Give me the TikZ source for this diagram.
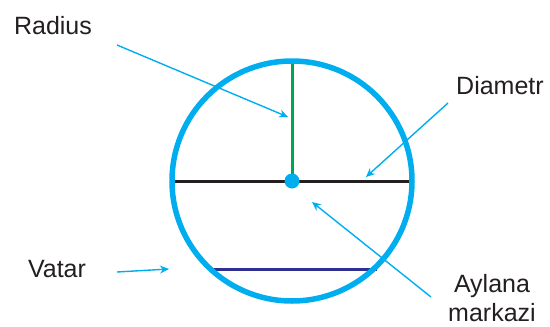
\documentclass[tikz,border=0pt]{standalone}
\usepackage{fontspec}
\setmainfont{Liberation Sans}
\usetikzlibrary{arrows.meta}
\definecolor{cy}{HTML}{00AEEF}
\definecolor{gr}{HTML}{00A651}
\definecolor{nv}{HTML}{2E3192}
\definecolor{tx}{HTML}{231F20}
\begin{document}
\begin{tikzpicture}[x=1pt,y=-1pt,
  lbl/.style={font=\fontsize{25}{30}\selectfont, text=tx, inner sep=0pt, anchor=base},
  ptr/.style={draw=cy, line width=1.4pt, -{Stealth[length=9pt,width=8pt,inset=3pt]}}]
\useasboundingbox (0,0) rectangle (550,327);
\coordinate (O) at (292,181);
\coordinate (T) at (292,61);
\coordinate (L) at (174,181);
\coordinate (R) at (412,181);
\coordinate (CL) at (210,269);
\coordinate (CR) at (377,269);
\draw[gr, line width=3pt] (O) -- (T);
\draw[tx, line width=3pt] (L) -- (R);
\draw[nv, line width=3pt] (CL) -- (CR);
\draw[cy, line width=5.5pt] (O) circle[radius=120];
\fill[cy] (O) circle[radius=7.5];
\node[lbl] (rad) at (53,34) {Radius};
\node[lbl] (dia) at (500,94) {Diametr};
\node[lbl] (vat) at (57,277) {Vatar};
\node[lbl] (ayl) at (492,292) {Aylana};
\node[lbl] (mar) at (492,321) {markazi};
\coordinate (r1) at (117,45);
\coordinate (r2) at (288,117);
\coordinate (d1) at (448,103);
\coordinate (d2) at (366,177);
\coordinate (v1) at (117,272);
\coordinate (v2) at (169,269);
\coordinate (a1) at (431,297);
\coordinate (a2) at (312,202);
\draw[ptr] (r1) -- (r2);
\draw[ptr] (d1) -- (d2);
\draw[ptr] (v1) -- (v2);
\draw[ptr] (a1) -- (a2);
\end{tikzpicture}
\end{document}
